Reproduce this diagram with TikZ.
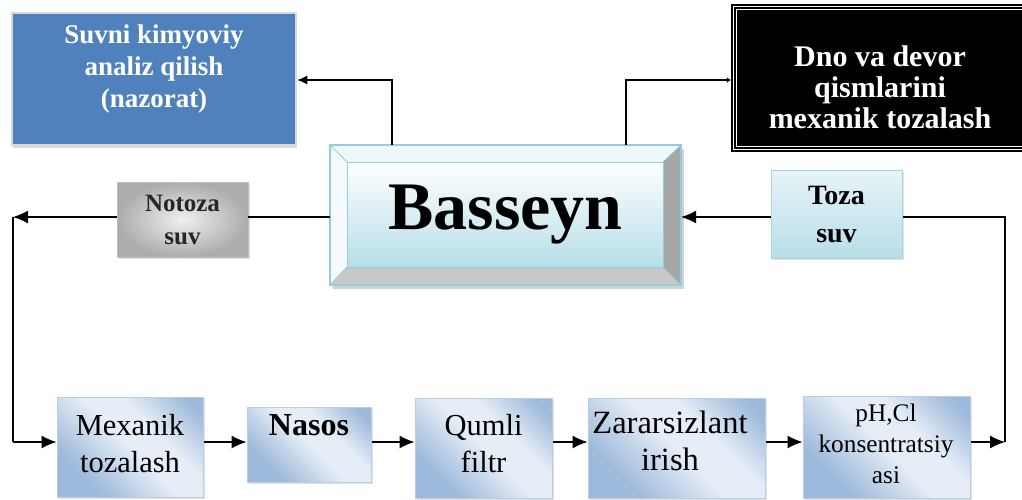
\documentclass[tikz,border=0pt]{standalone}
\usepackage{fontspec}
\setmainfont{Liberation Serif}
\usetikzlibrary{arrows.meta,shadows,calc}
\definecolor{suvblue}{HTML}{4F81BD}
\definecolor{frameg}{HTML}{D9D9D9}
\definecolor{bevborder}{HTML}{93CDDD}
\definecolor{bevtop}{HTML}{EEF7FA}
\definecolor{bevleft}{HTML}{F5FAFC}
\definecolor{bevright}{HTML}{A6A6A6}
\definecolor{bevbot}{HTML}{C8C8C8}
\definecolor{basbot}{HTML}{B7DEE8}
\definecolor{tozatop}{HTML}{E8F4F8}
\definecolor{tozaborder}{HTML}{A5D5E2}
\definecolor{bdark}{HTML}{9DB9DB}
\definecolor{blight}{HTML}{E6EDF6}
\definecolor{bborder}{HTML}{B9CDE5}
\pgfdeclarehorizontalshading{bluerefl}{100bp}{color(0bp)=(bdark); color(28bp)=(bdark); color(50bp)=(blight); color(62bp)=(blight); color(80bp)=(bdark); color(100bp)=(bdark)}
\begin{document}
\begin{tikzpicture}[x=1pt,y=-1pt,
  line/.style={line width=1.2pt, black},
  arr/.style={line, -{Latex[length=15pt,width=13pt]}},
  arrsm/.style={line, -{Latex[length=10pt,width=9pt]}},
  arrtiny/.style={line, -{Latex[length=4pt,width=6pt]}},
  wtext/.style={text=white, align=center, inner sep=0pt},
  btext/.style={text=black, align=center, inner sep=0pt},
  suvbox/.style={fill=suvblue, draw=frameg, line width=2.5pt, minimum width=284pt, minimum height=132pt, inner sep=0pt,
     drop shadow={shadow xshift=1pt, shadow yshift=-3pt, fill=gray!60}},
  dnobox/.style={fill=black, minimum width=298pt, minimum height=148pt, inner sep=0pt},
  notbox/.style={shading=radial, inner color=gray!12, outer color=gray!65, draw=gray!50, line width=0.8pt,
     minimum width=131pt, minimum height=75pt, inner sep=0pt, align=center,
     drop shadow={shadow xshift=2pt, shadow yshift=-2pt, fill=gray!50}},
  tozabox/.style={top color=tozatop, bottom color=basbot, draw=tozaborder, line width=1pt,
     minimum width=131pt, minimum height=88pt, inner sep=0pt, align=center,
     drop shadow={shadow xshift=2pt, shadow yshift=-2pt, fill=gray!40}},
  bbox/.style={shading=bluerefl, shading angle=45, draw=bborder, line width=1pt, inner sep=0pt,
     drop shadow={shadow xshift=2pt, shadow yshift=-2pt, fill=gray!45}},
]
\useasboundingbox (0,0) rectangle (1022,499);

% top-left box
\node[suvbox] (suvni) at (154,79) {};
\node[wtext, anchor=base, font=\fontsize{27}{32}\selectfont\bfseries] (suvniT) at (154,107)
  {Suvni kimyoviy\\analiz qilish\\(nazorat)};

% top-right box
\node[dnobox] (dno) at (880,78) {};
\draw[white, line width=0.9pt] ([shift={(3,3)}]dno.north west) rectangle ([shift={(-3,-3)}]dno.south east);
\draw[white, line width=0.9pt] ([shift={(5.5,5.5)}]dno.north west) rectangle ([shift={(-5.5,-5.5)}]dno.south east);
\node[wtext, anchor=base, font=\fontsize{30}{31}\selectfont\bfseries] (dnoT) at (880,128)
  {Dno va devor\\qismlarini\\mexanik tozalash};

% Basseyn bevel
\fill[gray!35] (333,149) rectangle (684,289);
\fill[bevtop] (330,145) -- (681,145) -- (663,162) -- (347,162) -- cycle;
\fill[bevleft] (330,145) -- (347,162) -- (347,267) -- (330,285) -- cycle;
\fill[bevright] (681,145) -- (681,285) -- (663,267) -- (663,162) -- cycle;
\fill[bevbot] (330,285) -- (681,285) -- (663,267) -- (347,267) -- cycle;
\shade[top color=white, bottom color=basbot] (347,162) rectangle (663,267);
\draw[bevborder, line width=0.8pt] (347,162) rectangle (663,267);
\draw[bevborder, line width=0.8pt] (330,145) -- (347,162) (681,145) -- (663,162) (330,285) -- (347,267) (681,285) -- (663,267);
\draw[bevborder, line width=1.5pt] (330,145) rectangle (681,285);
\node[font=\fontsize{68}{70}\selectfont\bfseries, minimum width=351pt, minimum height=140pt, inner sep=0pt] (bas) at (505.5,215) {Basseyn};

% side boxes
\node[notbox, font=\fontsize{25}{33}\selectfont\bfseries, text=black!85] (notoza) at (182.5,219.5) {Notoza\\suv};
\node[tozabox, font=\fontsize{28}{38}\selectfont\bfseries] (toza) at (836.5,214) {Toza\\suv};

% bottom boxes
\node[bbox, minimum width=146pt, minimum height=100pt] (mex) at (130,447) {};
\node[bbox, minimum width=124pt, minimum height=75pt] (nasos) at (309,444.5) {};
\node[bbox, minimum width=137pt, minimum height=100pt] (qumli) at (483.5,448) {};
\node[bbox, minimum width=177pt, minimum height=100pt] (zar) at (676.5,448) {};
\node[bbox, minimum width=167pt, minimum height=102pt] (ph) at (886.5,447) {};

\node[btext, anchor=base, font=\fontsize{30.5}{37}\selectfont] (mexT) at (130,472) {Mexanik\\tozalash};
\node[btext, anchor=base, font=\fontsize{32}{37}\selectfont\bfseries] (nasosT) at (309,435) {Nasos};
\node[btext, anchor=base, font=\fontsize{30.5}{37}\selectfont] (qumliT) at (483.5,472) {Qumli\\filtr};
\node[btext, anchor=base, font=\fontsize{32.5}{37}\selectfont] (zarT) at (670,470) {Zararsizlant\\irish};
\node[btext, anchor=base, font=\fontsize{25.3}{31}\selectfont] (phT) at (886,483) {pH,Cl\\konsentratsiy\\asi};

% helper coordinates
\coordinate (row1) at (0,217);
\coordinate (row2) at (0,442);
\coordinate (tl) at (392,80);
\coordinate (tr) at (626,80);
\coordinate (lc) at (13,217);
\coordinate (rc) at (1005,217);

% connectors
\draw[arrsm] (bas.north -| tl) -- (tl) -- (tl -| suvni.east);
\draw[arrtiny] (bas.north -| tr) -- (tr) -- (tr -| dno.west);
\draw[line] (bas.west |- row1) -- (notoza.east |- row1);
\draw[arr] (notoza.west |- row1) -- (lc);
\draw[line] (lc) -- (lc |- row2);
\draw[arr] (lc |- row2) -- (mex.west |- row2);
\draw[arr] (mex.east |- row2) -- (nasos.west |- row2);
\draw[arr] (nasos.east |- row2) -- (qumli.west |- row2);
\draw[arr] (qumli.east |- row2) -- (zar.west |- row2);
\draw[arr] (zar.east |- row2) -- (ph.west |- row2);
\draw[arr] (ph.east |- row2) -- (rc |- row2);
\draw[line] (rc |- row2) -- (rc) -- (toza.east |- row1);
\draw[arr] (toza.west |- row1) -- (bas.east |- row1);
\end{tikzpicture}
\end{document}
